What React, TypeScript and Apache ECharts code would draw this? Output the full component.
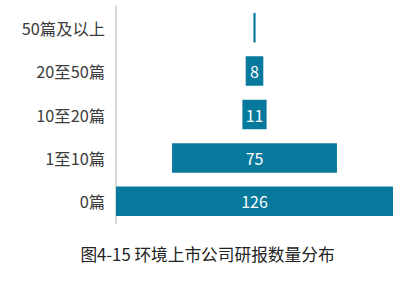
import React, { useEffect, useRef } from "react";
import * as echarts from "echarts";

const categories = ["0篇", "1至10篇", "10至20篇", "20至50篇", "50篇及以上"];
const counts = [126, 75, 11, 8, 1];
const titleText = "图4-15 环境上市公司研报数量分布";

export default function App() {
  const ref = useRef<HTMLDivElement>(null);
  useEffect(() => {
    document.body.style.margin = "0";
    const chart = echarts.init(ref.current!, null, { renderer: "svg" });
    const maxV = Math.max(...counts);
    const offsets = counts.map((v) => (maxV - v) / 2);
    chart.setOption({
      animation: false,
      title: {
        text: titleText,
        left: "center",
        top: 241,
        textStyle: {
          fontSize: 16.7,
          fontWeight: "normal",
          color: "#222",
          fontFamily: "Noto Sans CJK SC",
        },
      },
      grid: { left: 116, right: 22, top: 6, bottom: 69 },
      xAxis: { type: "value", min: 0, max: maxV, show: false },
      yAxis: {
        type: "category",
        data: categories,
        axisLine: { show: true, lineStyle: { color: "#d9d9d9", width: 2 } },
        axisTick: { show: false },
        axisLabel: {
          fontSize: 16.3,
          color: "#3c3c3c",
          margin: 11,
          fontFamily: "Noto Sans CJK SC",
        },
      },
      series: [
        {
          type: "bar",
          stack: "s",
          data: offsets,
          barWidth: "68%",
          itemStyle: { color: "transparent" },
          silent: true,
        },
        {
          type: "bar",
          stack: "s",
          data: counts.map((v) => ({
            value: v,
            label: { show: v > 1 },
          })),
          barWidth: "68%",
          itemStyle: { color: "#07799c" },
          label: {
            show: true,
            position: "inside",
            color: "#fff",
            fontSize: 16,
            fontFamily: "Noto Sans CJK SC",
          },
        },
      ],
    });
    return () => chart.dispose();
  }, []);
  return <div ref={ref} style={{ width: 415, height: 292 }} />;
}
